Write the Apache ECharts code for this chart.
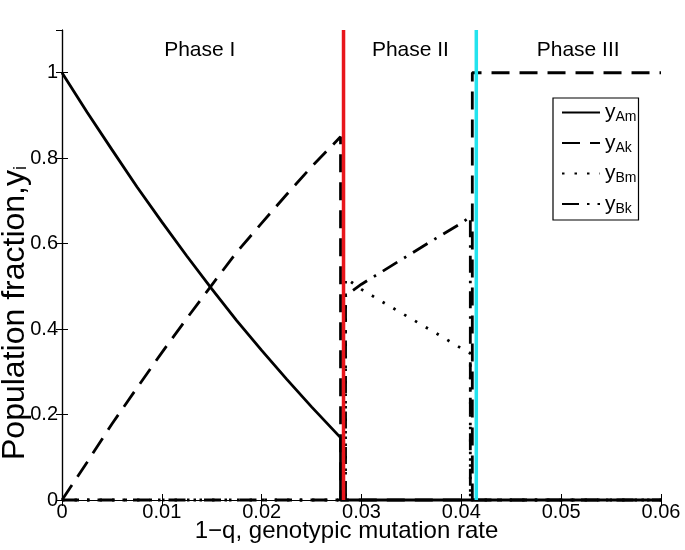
<!DOCTYPE html>
<html>
<head>
<meta charset="utf-8">
<script src="https://cdn.jsdelivr.net/npm/echarts@6/dist/echarts.min.js"></script>
<style>
html,body{margin:0;padding:0;background:#fff;}
#chart{width:685px;height:550px;}
</style>
</head>
<body>
<div id="chart"></div>
<script>
// ---- data ----
const xAm = [0, 0.0025, 0.005, 0.0075, 0.01, 0.0125, 0.015, 0.0175, 0.02, 0.0225, 0.025, 0.0279, 0.0279, 0.06];
const yAm = [1, 0.908, 0.82, 0.733, 0.651, 0.571, 0.494, 0.42, 0.35, 0.283, 0.218, 0.146, 0, 0];

const xAk = [0, 0.0025, 0.005, 0.0075, 0.01, 0.0125, 0.015, 0.0175, 0.02, 0.0225, 0.025, 0.0279, 0.0279, 0.0411, 0.0411, 0.06];
const yAk = [0, 0.088, 0.178, 0.262, 0.345, 0.425, 0.503, 0.58, 0.648, 0.715, 0.78, 0.85, 0, 0, 1, 1];

const xBm = [0, 0.0284, 0.0284, 0.03, 0.0325, 0.035, 0.0375, 0.04, 0.0409, 0.0409, 0.06];
const yBm = [0, 0, 0.52, 0.493, 0.458, 0.424, 0.39, 0.355, 0.343, 0, 0];

const xBk = [0, 0.0284, 0.0284, 0.03, 0.0325, 0.035, 0.0375, 0.04, 0.0409, 0.0409, 0.06];
const yBk = [0, 0, 0.478, 0.505, 0.541, 0.577, 0.613, 0.648, 0.663, 0, 0];

const phaseBounds = [0.0282, 0.0415];           // red, cyan vertical lines
const phaseNames = ['Phase I', 'Phase II', 'Phase III'];
const phaseX = [0.0138, 0.0349, 0.0517];
const phaseY = 1.052;

const seriesNames = ['Am', 'Ak', 'Bm', 'Bk'];
const xTicks = [0, 0.01, 0.02, 0.03, 0.04, 0.05, 0.06];
const yTicks = [0, 0.2, 0.4, 0.6, 0.8, 1];

// ---- build ----
const FONT = "'Liberation Sans', Arial, Helvetica, sans-serif";
const zip = (xs, ys) => xs.map((x, i) => [x, ys[i]]);

const styles = {
  Am: { type: 'solid' },
  Ak: { type: [18, 10] },
  Bm: { type: [2.5, 10] },
  Bk: { type: [17, 8, 2.5, 8] }
};
const dataMap = { Am: zip(xAm, yAm), Ak: zip(xAk, yAk), Bm: zip(xBm, yBm), Bk: zip(xBk, yBk) };

const lineSeries = seriesNames.map(n => ({
  name: n,
  type: 'line',
  data: dataMap[n],
  symbol: 'none',
  clip: false,
  z: 3,
  lineStyle: { color: '#000', width: 2.8, type: styles[n].type, cap: 'butt' },
  itemStyle: { color: '#000' }
}));

const vColors = ['#e8161b', '#22e3ee'];
const vSeries = phaseBounds.map((b, i) => ({
  name: 'bound' + i,
  type: 'line',
  data: [[b, 0], [b, 1.1]],
  symbol: 'none',
  z: 4,
  silent: true,
  lineStyle: { color: vColors[i], width: 3.5 }
}));

const phaseSeries = {
  name: 'phases',
  type: 'scatter',
  symbolSize: 0,
  silent: true,
  itemStyle: { opacity: 1 },
  data: phaseNames.map((t, i) => ({ value: [phaseX[i], phaseY], name: t })),
  label: {
    show: true, position: 'inside', formatter: p => p.name, opacity: 1,
    color: '#000', fontSize: 21, fontFamily: FONT
  }
};

const axisCommon = {
  axisLine: { show: true, lineStyle: { color: '#000', width: 1.2 } },
  axisTick: { show: true, inside: true, length: 6, lineStyle: { color: '#000', width: 1 } },
  splitLine: { show: false },
  nameMoveOverlap: false
};

const option = {
  backgroundColor: '#fff',
  animation: false,
  grid: { left: 62, right: 24, top: 30, bottom: 50, containLabel: false, outerBoundsMode: 'none' },
  xAxis: [
    Object.assign({
      type: 'value', min: 0, max: 0.06, interval: 0.01, position: 'bottom',
      axisLabel: { color: '#000', fontSize: 20, fontFamily: FONT, margin: 2,
        formatter: v => String(+v.toFixed(3)) },
      name: '1\u2212q, genotypic mutation rate', nameLocation: 'middle', nameGap: 19,
      nameTextStyle: { color: '#000', fontSize: 24, fontFamily: FONT, padding: [0, 30, 0, 0] }
    }, axisCommon),
    Object.assign({
      type: 'value', min: 0, max: 0.06, interval: 0.01, position: 'top',
      axisLabel: { show: false }
    }, axisCommon)
  ],
  yAxis: [
    Object.assign({
      type: 'value', min: 0, max: 1.1, interval: 0.2, position: 'left',
      axisLabel: { color: '#000', fontSize: 20, fontFamily: FONT, margin: 4, showMaxLabel: false,
        formatter: v => (yTicks.some(t => Math.abs(t - v) < 1e-9) ? String(+v.toFixed(2)) : '') },
      name: '{a|Population fraction,y}{s|i}', nameLocation: 'middle', nameGap: 31, nameRotate: 90,
      nameTextStyle: { color: '#000', fontFamily: FONT, padding: [0, 96, 0, 0],
        rich: { a: { fontSize: 32, fontFamily: FONT, color: '#000' },
                s: { fontSize: 18, fontFamily: FONT, color: '#000', padding: [12, 0, 0, 0] } } }
    }, axisCommon),
    Object.assign({
      type: 'value', min: 0, max: 1.1, interval: 0.2, position: 'right',
      axisLabel: { show: false }
    }, axisCommon)
  ],
  legend: {
    show: true,
    data: seriesNames,
    orient: 'vertical',
    left: 553, top: 98,
    backgroundColor: '#fff',
    borderColor: '#000', borderWidth: 1.2,
    padding: [4, 2, 4, 8],
    itemWidth: 38, itemHeight: 16, itemGap: 8,
    itemStyle: { opacity: 0 },
    formatter: n => '{y|y}{s|' + n + '}',
    textStyle: {
      color: '#000', fontFamily: FONT,
      rich: { y: { fontSize: 21, fontFamily: FONT, color: '#000' },
              s: { fontSize: 14, fontFamily: FONT, color: '#000', padding: [10, 0, 0, 0] } }
    }
  },
  series: [...vSeries, ...lineSeries, phaseSeries]
};

const chart = echarts.init(document.getElementById('chart'), null, { renderer: 'canvas' });
chart.setOption(option);
</script>
</body>
</html>
